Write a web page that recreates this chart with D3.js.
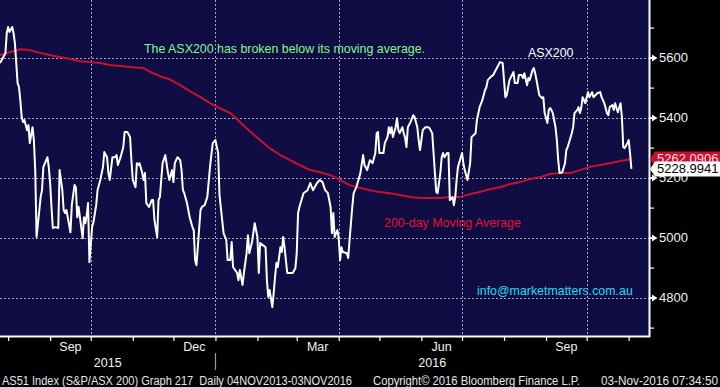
<!DOCTYPE html>
<html><head><meta charset="utf-8">
<script src="https://cdn.jsdelivr.net/npm/d3@7"></script>
<style>
body{margin:0;background:#000;overflow:hidden}
svg{display:block}
text{font-family:"Liberation Sans",Arial,sans-serif;white-space:pre}
</style>
</head><body>
<script>
// ---- DATA ----
const price = [
["2015-07-26",5582],["2015-07-28",5598],["2015-07-30",5615],["2015-07-31",5682],["2015-08-01",5702],["2015-08-02",5685],
["2015-08-04",5702],["2015-08-05",5682],["2015-08-06",5648],["2015-08-08",5515],["2015-08-09",5502],["2015-08-10",5458],
["2015-08-11",5402],["2015-08-12",5385],["2015-08-13",5392],["2015-08-15",5358],["2015-08-16",5375],["2015-08-17",5315],
["2015-08-19",5368],["2015-08-20",5325],["2015-08-21",5225],["2015-08-22",5002],["2015-08-25",5135],["2015-08-26",5158],
["2015-08-27",5235],["2015-08-30",5268],["2015-08-31",5235],["2015-09-01",5182],["2015-09-02",5102],["2015-09-03",5032],
["2015-09-05",5035],["2015-09-07",5032],["2015-09-08",5225],["2015-09-10",5158],["2015-09-11",5092],["2015-09-12",5082],
["2015-09-13",5092],["2015-09-14",5068],["2015-09-16",5018],["2015-09-17",5108],["2015-09-19",5175],["2015-09-20",5168],
["2015-09-21",5068],["2015-09-22",5102],["2015-09-25",4998],["2015-09-26",5068],["2015-09-27",5048],["2015-09-28",5075],
["2015-09-29",5115],["2015-09-30",4918],["2015-10-02",5035],["2015-10-03",5052],["2015-10-05",5108],["2015-10-06",5158],
["2015-10-08",5192],["2015-10-10",5235],["2015-10-11",5285],["2015-10-13",5268],["2015-10-14",5215],["2015-10-15",5192],
["2015-10-17",5268],["2015-10-19",5268],["2015-10-20",5275],["2015-10-21",5242],["2015-10-23",5268],["2015-10-25",5302],
["2015-10-26",5352],["2015-10-28",5352],["2015-10-30",5335],["2015-10-31",5258],["2015-11-01",5192],["2015-11-03",5168],
["2015-11-04",5248],["2015-11-05",5242],["2015-11-06",5248],["2015-11-08",5215],["2015-11-09",5192],["2015-11-10",5215],
["2015-11-11",5115],["2015-11-13",5102],["2015-11-15",5125],["2015-11-16",5125],["2015-11-17",5058],["2015-11-19",5002],
["2015-11-20",5125],["2015-11-21",5135],["2015-11-23",5248],["2015-11-25",5275],["2015-11-27",5215],["2015-11-28",5192],
["2015-11-30",5225],["2015-12-01",5185],["2015-12-02",5248],["2015-12-04",5268],["2015-12-06",5258],["2015-12-07",5225],
["2015-12-08",5158],["2015-12-09",5148],["2015-12-11",5115],["2015-12-13",5068],["2015-12-15",5035],["2015-12-16",5025],
["2015-12-17",4925],["2015-12-18",4908],["2015-12-19",4968],["2015-12-21",5092],["2015-12-22",5102],["2015-12-24",5108],
["2015-12-26",5135],["2015-12-28",5235],["2015-12-30",5315],["2016-01-01",5325],["2016-01-03",5282],["2016-01-04",5142],
["2016-01-07",5015],["2016-01-09",4992],["2016-01-10",4925],["2016-01-12",4925],["2016-01-13",4985],["2016-01-14",4902],
["2016-01-17",4882],["2016-01-18",4858],["2016-01-19",4892],["2016-01-21",4842],["2016-01-22",4882],["2016-01-24",4948],
["2016-01-25",5008],["2016-01-26",4948],["2016-01-28",4985],["2016-01-30",5048],["2016-02-01",5002],["2016-02-02",4882],
["2016-02-03",4982],["2016-02-05",4975],["2016-02-07",4968],["2016-02-08",4858],["2016-02-09",4802],["2016-02-10",4825],
["2016-02-12",4768],["2016-02-13",4815],["2016-02-14",4868],["2016-02-15",4915],["2016-02-16",4902],["2016-02-18",4968],
["2016-02-19",4952],["2016-02-20",5002],["2016-02-21",4968],["2016-02-23",4882],["2016-02-25",4882],["2016-02-27",4882],
["2016-02-29",4898],["2016-03-01",4948],["2016-03-02",5082],["2016-03-03",5102],["2016-03-06",5148],["2016-03-09",5158],
["2016-03-11",5182],["2016-03-13",5158],["2016-03-16",5182],["2016-03-18",5192],["2016-03-20",5185],["2016-03-22",5158],
["2016-03-24",5148],["2016-03-26",5102],["2016-03-27",5015],["2016-03-28",5082],["2016-03-29",5002],["2016-03-31",5025],
["2016-04-01",4998],["2016-04-02",4925],["2016-04-03",4968],["2016-04-04",4952],["2016-04-07",4948],["2016-04-08",4932],
["2016-04-09",4992],["2016-04-11",5102],["2016-04-12",5148],["2016-04-14",5168],["2016-04-17",5215],["2016-04-19",5275],
["2016-04-20",5242],["2016-04-22",5225],["2016-04-24",5258],["2016-04-26",5248],["2016-04-28",5282],["2016-04-29",5348],
["2016-04-30",5352],["2016-05-01",5282],["2016-05-04",5282],["2016-05-05",5315],["2016-05-07",5335],["2016-05-08",5368],
["2016-05-09",5348],["2016-05-10",5368],["2016-05-11",5335],["2016-05-13",5368],["2016-05-14",5398],["2016-05-15",5358],
["2016-05-16",5348],["2016-05-18",5368],["2016-05-19",5348],["2016-05-20",5332],["2016-05-21",5302],["2016-05-22",5368],
["2016-05-24",5385],["2016-05-26",5408],["2016-05-27",5402],["2016-05-29",5368],["2016-05-30",5325],["2016-05-31",5292],
["2016-06-01",5325],["2016-06-02",5358],["2016-06-04",5368],["2016-06-06",5368],["2016-06-07",5365],["2016-06-09",5348],
["2016-06-10",5282],["2016-06-11",5215],["2016-06-12",5152],["2016-06-13",5148],["2016-06-15",5215],["2016-06-16",5268],
["2016-06-17",5282],["2016-06-18",5268],["2016-06-20",5282],["2016-06-21",5282],["2016-06-22",5125],["2016-06-24",5135],
["2016-06-25",5108],["2016-06-26",5135],["2016-06-27",5192],["2016-06-28",5235],["2016-07-01",5282],["2016-07-02",5248],
["2016-07-03",5225],["2016-07-05",5192],["2016-07-07",5248],["2016-07-08",5335],["2016-07-11",5348],["2016-07-12",5392],
["2016-07-14",5435],["2016-07-16",5458],["2016-07-18",5492],["2016-07-19",5502],["2016-07-20",5525],["2016-07-22",5535],
["2016-07-24",5542],["2016-07-27",5568],["2016-07-29",5585],["2016-07-31",5582],["2016-08-01",5525],["2016-08-02",5468],
["2016-08-03",5475],["2016-08-05",5525],["2016-08-08",5552],["2016-08-09",5515],["2016-08-11",5515],["2016-08-12",5542],
["2016-08-14",5542],["2016-08-15",5532],["2016-08-16",5548],["2016-08-18",5508],["2016-08-19",5532],["2016-08-20",5525],
["2016-08-22",5558],["2016-08-23",5565],["2016-08-24",5548],["2016-08-25",5525],["2016-08-27",5475],["2016-08-29",5465],
["2016-08-30",5468],["2016-08-31",5415],["2016-09-02",5382],["2016-09-03",5425],["2016-09-04",5432],["2016-09-05",5425],
["2016-09-06",5415],["2016-09-08",5368],["2016-09-09",5325],["2016-09-10",5258],["2016-09-11",5215],["2016-09-13",5218],
["2016-09-15",5248],["2016-09-16",5292],["2016-09-17",5302],["2016-09-20",5348],["2016-09-21",5368],["2016-09-22",5415],
["2016-09-24",5425],["2016-09-25",5435],["2016-09-26",5415],["2016-09-27",5432],["2016-09-28",5468],["2016-09-30",5448],
["2016-10-01",5468],["2016-10-02",5485],["2016-10-03",5468],["2016-10-05",5485],["2016-10-06",5468],["2016-10-09",5482],
["2016-10-11",5485],["2016-10-12",5468],["2016-10-13",5458],["2016-10-14",5448],["2016-10-16",5415],["2016-10-17",5408],
["2016-10-18",5435],["2016-10-20",5442],["2016-10-21",5425],["2016-10-22",5448],["2016-10-23",5432],["2016-10-24",5418],
["2016-10-26",5448],["2016-10-27",5402],["2016-10-28",5302],["2016-10-29",5298],["2016-10-31",5315],["2016-11-01",5325],
["2016-11-02",5282],["2016-11-03",5228.9941]
];
const movingAverage = [
["2015-07-26",5608],["2015-08-02",5618],["2015-08-10",5628],["2015-08-17",5625],["2015-08-25",5615],["2015-09-01",5608],
["2015-09-08",5602],["2015-09-16",5595],["2015-09-23",5588],["2015-09-30",5585],["2015-10-08",5582],["2015-10-15",5575],
["2015-10-23",5572],["2015-11-01",5568],["2015-11-09",5565],["2015-11-14",5552],["2015-11-21",5538],["2015-11-28",5528],
["2015-12-06",5508],["2015-12-13",5488],["2015-12-21",5468],["2015-12-28",5448],["2016-01-04",5432],["2016-01-12",5415],
["2016-01-19",5385],["2016-01-27",5352],["2016-02-03",5325],["2016-02-10",5298],["2016-02-18",5275],["2016-02-25",5258],
["2016-03-03",5242],["2016-03-11",5225],["2016-03-18",5218],["2016-03-26",5208],["2016-04-02",5192],["2016-04-09",5175],
["2016-04-17",5165],["2016-04-24",5158],["2016-05-01",5152],["2016-05-09",5148],["2016-05-16",5142],["2016-05-24",5135],
["2016-05-31",5132],["2016-06-07",5132],["2016-06-15",5132],["2016-06-22",5135],["2016-06-29",5135],["2016-07-07",5145],
["2016-07-14",5152],["2016-07-22",5162],["2016-07-29",5168],["2016-08-05",5178],["2016-08-13",5185],["2016-08-20",5195],
["2016-08-28",5202],["2016-09-04",5212],["2016-09-11",5215],["2016-09-19",5215],["2016-09-26",5225],["2016-10-03",5235],
["2016-10-11",5242],["2016-10-18",5248],["2016-10-26",5255],["2016-11-03",5262.0906]
];
const xDomain = ["2015-07-26","2016-11-16"];
const yDomain = [4672, 5792];
const yMajorTicks = [4800, 5000, 5200, 5400, 5600];
const yMinorTicks = [4700, 4800, 4900, 5000, 5100, 5200, 5300, 5400, 5500, 5600, 5700];
const gridDates = ["2015-10-01","2016-01-01","2016-04-01","2016-07-01","2016-10-01"];
const monthLabels = [["2015-09","Sep"],["2015-12","Dec"],["2016-03","Mar"],["2016-06","Jun"],["2016-09","Sep"]];
const yearLabels = ["2015","2016"];
const lastPrice = 5228.9941, lastMA = 5262.0906;
const footerLeft = "AS51 Index (S&P/ASX 200) Graph 217  Daily 04NOV2013-03NOV2016";
const footerMid = "Copyright\u00A9 2016 Bloomberg Finance L.P.";
const footerRight = "03-Nov-2016 07:34:50";

// ---- CHART ----
const W = 720, H = 387, PW = 649, PH = 336;
const parse = d3.timeParse("%Y-%m-%d"), parseM = d3.timeParse("%Y-%m");
const svg = d3.select("body").append("svg").attr("width", W).attr("height", H);
svg.append("rect").attr("width", W).attr("height", H).attr("fill", "#000");

const x = d3.scaleTime().domain(xDomain.map(parse)).range([0, PW]);
const y = d3.scaleLinear().domain(yDomain).range([PH, 0]);

svg.append("rect").attr("width", PW).attr("height", PH).attr("fill", "#100d44");
svg.append("clipPath").attr("id", "clip").append("rect").attr("width", PW).attr("height", PH);

// grid
const grid = svg.append("g").attr("stroke", "#a9a6b8").attr("stroke-width", 1).attr("stroke-dasharray", "2,2");
yMajorTicks.forEach(t => {
  const yy = Math.round(y(t)) + 0.5;
  grid.append("line").attr("x1", 0).attr("x2", PW).attr("y1", yy).attr("y2", yy);
});
gridDates.forEach(d => {
  const xx = Math.round(x(parse(d))) + 0.5;
  grid.append("line").attr("x1", xx).attr("x2", xx).attr("y1", 0).attr("y2", PH);
});

// lines
const plot = svg.append("g").attr("clip-path", "url(#clip)");
const line = d3.line().x(d => x(parse(d[0]))).y(d => y(d[1]));
plot.append("path").datum(movingAverage).attr("d", line).attr("fill", "none")
  .attr("stroke", "#c8102e").attr("stroke-width", 2).attr("stroke-linejoin", "round");
plot.append("path").datum(price).attr("d", line).attr("fill", "none")
  .attr("stroke", "#ffffff").attr("stroke-width", 2).attr("stroke-linejoin", "round");

// borders
svg.append("line").attr("x1", 0).attr("x2", PW + 1).attr("y1", PH + 0.5).attr("y2", PH + 0.5).attr("stroke", "#fff").attr("stroke-width", 2);
svg.append("line").attr("x1", PW + 0.5).attr("x2", PW + 0.5).attr("y1", 0).attr("y2", PH + 1).attr("stroke", "#fff").attr("stroke-width", 2);

// right axis
const minor = svg.append("g").attr("transform", `translate(${PW},0)`)
  .call(d3.axisRight(y).tickValues(yMinorTicks).tickSize(5).tickFormat(""));
minor.select(".domain").remove();
minor.selectAll("line").attr("stroke", "#fff").attr("stroke-width", 1.2);
const major = svg.append("g").attr("transform", `translate(${PW},0)`)
  .call(d3.axisRight(y).tickValues(yMajorTicks).tickSize(0).tickPadding(10).tickFormat(d3.format("d")));
major.select(".domain").remove();
major.selectAll("text").attr("fill", "#f2f2f2").attr("font-size", 13)
  .attr("font-family", '"Liberation Sans",Arial,sans-serif');
major.selectAll(".tick").insert("path", "text").attr("d", "M0,-0.8L3,-0.8L3,-3.5L8.5,0L3,3.5L3,0.8L0,0.8Z").attr("fill", "#fff");

// bottom axis
const bx = svg.append("g").attr("transform", `translate(0,${PH + 1})`)
  .call(d3.axisBottom(x).ticks(d3.timeMonth.every(1)).tickSize(4).tickFormat(""));
bx.select(".domain").remove();
bx.selectAll("line").attr("stroke", "#fff").attr("stroke-width", 1.2);

monthLabels.forEach(([m, lab]) => {
  const s = parseM(m), e = d3.timeMonth.offset(s, 1);
  svg.append("text").attr("x", (x(s) + x(e)) / 2).attr("y", 351).attr("text-anchor", "middle")
    .attr("fill", "#f2f2f2").attr("font-size", 12.5).text(lab);
});
const yearSplit = x(parse("2016-01-01"));
svg.append("text").attr("x", yearSplit / 2).attr("y", 367).attr("text-anchor", "middle")
  .attr("fill", "#f2f2f2").attr("font-size", 12.5).text(yearLabels[0]);
svg.append("text").attr("x", (yearSplit + PW) / 2).attr("y", 367).attr("text-anchor", "middle")
  .attr("fill", "#f2f2f2").attr("font-size", 12.5).text(yearLabels[1]);
svg.append("line").attr("x1", Math.round(yearSplit) + 0.5).attr("x2", Math.round(yearSplit) + 0.5)
  .attr("y1", 353).attr("y2", 370).attr("stroke", "#9a9a9a").attr("stroke-width", 1.2);

// annotations
svg.append("text").attr("x", 144).attr("y", 52.5).attr("fill", "#84f58a").attr("font-size", 12.4)
  .text("The ASX200 has broken below its moving average.");
svg.append("text").attr("x", 528).attr("y", 56.5).attr("fill", "#ffffff").attr("font-size", 12.4).text("ASX200");
svg.append("text").attr("x", 384).attr("y", 226.5).attr("fill", "#e0112e").attr("font-size", 12.4).text("200-day Moving Average");
svg.append("text").attr("x", 477).attr("y", 294.5).attr("fill", "#1fdcf2").attr("font-size", 12.4).text("info@marketmatters.com.au");

// last-value labels
function valueTag(v, fill, txtFill) {
  const cy = y(v);
  const g = svg.append("g");
  g.append("path").attr("d", `M650,${cy}L655,${cy - 7.5}L720,${cy - 7.5}L720,${cy + 7.5}L655,${cy + 7.5}Z`).attr("fill", fill);
  g.append("text").attr("x", 657).attr("y", cy + 4.5).attr("fill", txtFill).attr("font-size", 13).text(d3.format(".4f")(v));
}
valueTag(lastMA, "#c8102e", "#f4dce0");
valueTag(lastPrice, "#ffffff", "#000000");

// footer
svg.append("text").attr("x", 2).attr("y", 384.5).attr("fill", "#e6e6e6").attr("font-size", 12)
  .attr("textLength", 350).attr("lengthAdjust", "spacingAndGlyphs").text(footerLeft);
svg.append("text").attr("x", 373).attr("y", 384.5).attr("fill", "#e6e6e6").attr("font-size", 12)
  .attr("textLength", 207).attr("lengthAdjust", "spacingAndGlyphs").text(footerMid);
svg.append("text").attr("x", 601).attr("y", 384.5).attr("fill", "#e6e6e6").attr("font-size", 12)
  .attr("textLength", 117).attr("lengthAdjust", "spacingAndGlyphs").text(footerRight);
</script>
</body></html>
